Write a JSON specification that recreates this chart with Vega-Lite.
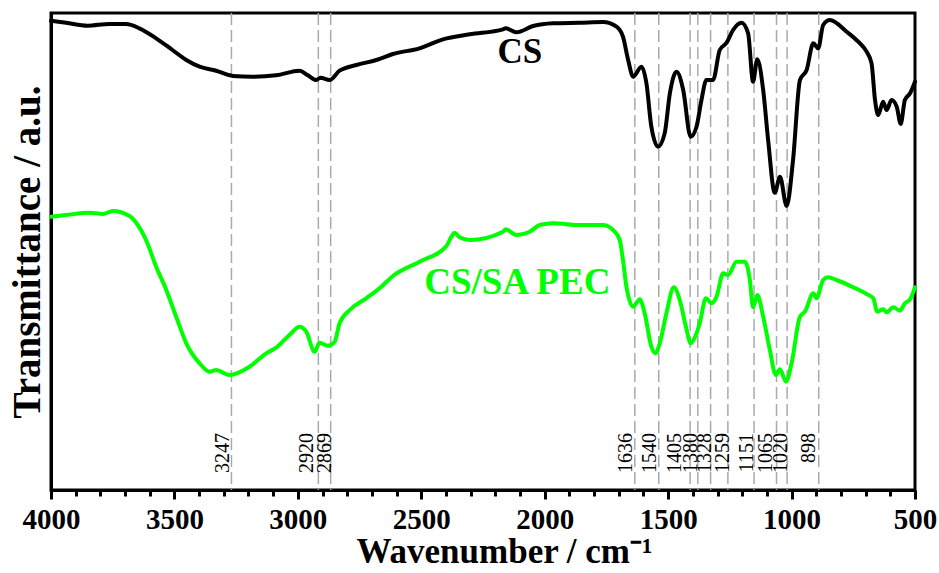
{
  "$schema": "https://vega.github.io/schema/vega-lite/v6.json",
  "width": 864,
  "height": 477,
  "autosize": {"type": "none"},
  "padding": {"left": 51, "top": 13, "right": 24, "bottom": 83},
  "background": "white",
  "config": {
    "view": {"stroke": "black", "strokeWidth": 3},
    "font": "Liberation Serif"
  },
  "datasets": {
    "spectra": [
      {"series": "CS", "wn": 4000, "t": 469.3},
      {"series": "CS", "wn": 3939, "t": 467.3},
      {"series": "CS", "wn": 3852, "t": 464.3},
      {"series": "CS", "wn": 3763, "t": 466},
      {"series": "CS", "wn": 3696, "t": 466},
      {"series": "CS", "wn": 3642, "t": 461.7},
      {"series": "CS", "wn": 3574, "t": 451.7},
      {"series": "CS", "wn": 3508, "t": 440},
      {"series": "CS", "wn": 3452, "t": 430},
      {"series": "CS", "wn": 3398, "t": 423.3},
      {"series": "CS", "wn": 3331, "t": 419.3},
      {"series": "CS", "wn": 3263, "t": 414},
      {"series": "CS", "wn": 3184, "t": 413.3},
      {"series": "CS", "wn": 3088, "t": 414.7},
      {"series": "CS", "wn": 2993, "t": 419.3},
      {"series": "CS", "wn": 2961, "t": 415},
      {"series": "CS", "wn": 2925, "t": 410},
      {"series": "CS", "wn": 2909, "t": 412.3},
      {"series": "CS", "wn": 2871, "t": 410},
      {"series": "CS", "wn": 2831, "t": 419.3},
      {"series": "CS", "wn": 2763, "t": 425},
      {"series": "CS", "wn": 2682, "t": 430},
      {"series": "CS", "wn": 2615, "t": 436},
      {"series": "CS", "wn": 2507, "t": 441.7},
      {"series": "CS", "wn": 2412, "t": 450.7},
      {"series": "CS", "wn": 2304, "t": 455.7},
      {"series": "CS", "wn": 2169, "t": 460.7},
      {"series": "CS", "wn": 2158, "t": 461.7},
      {"series": "CS", "wn": 2115, "t": 457.7},
      {"series": "CS", "wn": 2047, "t": 464},
      {"series": "CS", "wn": 1966, "t": 466.7},
      {"series": "CS", "wn": 1858, "t": 467.3},
      {"series": "CS", "wn": 1764, "t": 468},
      {"series": "CS", "wn": 1709, "t": 463.3},
      {"series": "CS", "wn": 1683, "t": 453.3},
      {"series": "CS", "wn": 1662, "t": 430},
      {"series": "CS", "wn": 1642, "t": 413.3},
      {"series": "CS", "wn": 1608, "t": 423.3},
      {"series": "CS", "wn": 1588, "t": 406.7},
      {"series": "CS", "wn": 1568, "t": 363.3},
      {"series": "CS", "wn": 1541, "t": 343.3},
      {"series": "CS", "wn": 1514, "t": 356.7},
      {"series": "CS", "wn": 1493, "t": 396.7},
      {"series": "CS", "wn": 1466, "t": 418.3},
      {"series": "CS", "wn": 1439, "t": 400},
      {"series": "CS", "wn": 1409, "t": 353.3},
      {"series": "CS", "wn": 1385, "t": 363.3},
      {"series": "CS", "wn": 1365, "t": 390},
      {"series": "CS", "wn": 1345, "t": 410},
      {"series": "CS", "wn": 1318, "t": 410},
      {"series": "CS", "wn": 1291, "t": 440},
      {"series": "CS", "wn": 1263, "t": 447.3},
      {"series": "CS", "wn": 1237, "t": 460},
      {"series": "CS", "wn": 1203, "t": 467.3},
      {"series": "CS", "wn": 1176, "t": 456.7},
      {"series": "CS", "wn": 1156, "t": 408.3},
      {"series": "CS", "wn": 1139, "t": 430.7},
      {"series": "CS", "wn": 1115, "t": 400},
      {"series": "CS", "wn": 1095, "t": 350},
      {"series": "CS", "wn": 1068, "t": 297.3},
      {"series": "CS", "wn": 1047, "t": 313.3},
      {"series": "CS", "wn": 1020, "t": 284},
      {"series": "CS", "wn": 994, "t": 330},
      {"series": "CS", "wn": 966, "t": 410},
      {"series": "CS", "wn": 939, "t": 420},
      {"series": "CS", "wn": 912, "t": 446.7},
      {"series": "CS", "wn": 892, "t": 441.7},
      {"series": "CS", "wn": 872, "t": 465},
      {"series": "CS", "wn": 845, "t": 470},
      {"series": "CS", "wn": 777, "t": 458.3},
      {"series": "CS", "wn": 730, "t": 448.3},
      {"series": "CS", "wn": 696, "t": 438.3},
      {"series": "CS", "wn": 676, "t": 426.7},
      {"series": "CS", "wn": 662, "t": 390},
      {"series": "CS", "wn": 649, "t": 375},
      {"series": "CS", "wn": 629, "t": 388.3},
      {"series": "CS", "wn": 615, "t": 380},
      {"series": "CS", "wn": 595, "t": 390},
      {"series": "CS", "wn": 574, "t": 383.3},
      {"series": "CS", "wn": 558, "t": 366},
      {"series": "CS", "wn": 541, "t": 390},
      {"series": "CS", "wn": 520, "t": 396.7},
      {"series": "CS", "wn": 500, "t": 408.3},
      {"series": "CS/SA PEC", "wn": 4000, "t": 273.3},
      {"series": "CS/SA PEC", "wn": 3939, "t": 275},
      {"series": "CS/SA PEC", "wn": 3844, "t": 277.3},
      {"series": "CS/SA PEC", "wn": 3790, "t": 276},
      {"series": "CS/SA PEC", "wn": 3750, "t": 279},
      {"series": "CS/SA PEC", "wn": 3682, "t": 274},
      {"series": "CS/SA PEC", "wn": 3655, "t": 267.3},
      {"series": "CS/SA PEC", "wn": 3615, "t": 250},
      {"series": "CS/SA PEC", "wn": 3574, "t": 223.3},
      {"series": "CS/SA PEC", "wn": 3533, "t": 200},
      {"series": "CS/SA PEC", "wn": 3493, "t": 173.3},
      {"series": "CS/SA PEC", "wn": 3452, "t": 146.7},
      {"series": "CS/SA PEC", "wn": 3398, "t": 126.7},
      {"series": "CS/SA PEC", "wn": 3358, "t": 118.3},
      {"series": "CS/SA PEC", "wn": 3331, "t": 120},
      {"series": "CS/SA PEC", "wn": 3277, "t": 115},
      {"series": "CS/SA PEC", "wn": 3196, "t": 123.3},
      {"series": "CS/SA PEC", "wn": 3128, "t": 136.7},
      {"series": "CS/SA PEC", "wn": 3088, "t": 142.3},
      {"series": "CS/SA PEC", "wn": 3034, "t": 155},
      {"series": "CS/SA PEC", "wn": 2993, "t": 163.3},
      {"series": "CS/SA PEC", "wn": 2966, "t": 158.3},
      {"series": "CS/SA PEC", "wn": 2932, "t": 138.3},
      {"series": "CS/SA PEC", "wn": 2912, "t": 147.3},
      {"series": "CS/SA PEC", "wn": 2878, "t": 144.3},
      {"series": "CS/SA PEC", "wn": 2851, "t": 148.3},
      {"series": "CS/SA PEC", "wn": 2831, "t": 166.7},
      {"series": "CS/SA PEC", "wn": 2790, "t": 180},
      {"series": "CS/SA PEC", "wn": 2723, "t": 191.7},
      {"series": "CS/SA PEC", "wn": 2669, "t": 201.7},
      {"series": "CS/SA PEC", "wn": 2615, "t": 214},
      {"series": "CS/SA PEC", "wn": 2507, "t": 228.3},
      {"series": "CS/SA PEC", "wn": 2398, "t": 244},
      {"series": "CS/SA PEC", "wn": 2378, "t": 253.3},
      {"series": "CS/SA PEC", "wn": 2365, "t": 257.3},
      {"series": "CS/SA PEC", "wn": 2345, "t": 252.7},
      {"series": "CS/SA PEC", "wn": 2304, "t": 250},
      {"series": "CS/SA PEC", "wn": 2169, "t": 258.3},
      {"series": "CS/SA PEC", "wn": 2158, "t": 260.7},
      {"series": "CS/SA PEC", "wn": 2115, "t": 255},
      {"series": "CS/SA PEC", "wn": 2061, "t": 258.3},
      {"series": "CS/SA PEC", "wn": 2020, "t": 265},
      {"series": "CS/SA PEC", "wn": 1966, "t": 266.7},
      {"series": "CS/SA PEC", "wn": 1858, "t": 265},
      {"series": "CS/SA PEC", "wn": 1764, "t": 265},
      {"series": "CS/SA PEC", "wn": 1723, "t": 260},
      {"series": "CS/SA PEC", "wn": 1696, "t": 250},
      {"series": "CS/SA PEC", "wn": 1683, "t": 230},
      {"series": "CS/SA PEC", "wn": 1669, "t": 203.3},
      {"series": "CS/SA PEC", "wn": 1642, "t": 183.3},
      {"series": "CS/SA PEC", "wn": 1615, "t": 190.7},
      {"series": "CS/SA PEC", "wn": 1595, "t": 176.7},
      {"series": "CS/SA PEC", "wn": 1568, "t": 143.3},
      {"series": "CS/SA PEC", "wn": 1551, "t": 136.7},
      {"series": "CS/SA PEC", "wn": 1534, "t": 146.7},
      {"series": "CS/SA PEC", "wn": 1507, "t": 176.7},
      {"series": "CS/SA PEC", "wn": 1477, "t": 202.7},
      {"series": "CS/SA PEC", "wn": 1453, "t": 190},
      {"series": "CS/SA PEC", "wn": 1428, "t": 163.3},
      {"series": "CS/SA PEC", "wn": 1409, "t": 146.7},
      {"series": "CS/SA PEC", "wn": 1385, "t": 156.7},
      {"series": "CS/SA PEC", "wn": 1372, "t": 166.7},
      {"series": "CS/SA PEC", "wn": 1347, "t": 191.7},
      {"series": "CS/SA PEC", "wn": 1324, "t": 186.7},
      {"series": "CS/SA PEC", "wn": 1304, "t": 193.3},
      {"series": "CS/SA PEC", "wn": 1277, "t": 216.7},
      {"series": "CS/SA PEC", "wn": 1257, "t": 215},
      {"series": "CS/SA PEC", "wn": 1223, "t": 228.3},
      {"series": "CS/SA PEC", "wn": 1189, "t": 228.3},
      {"series": "CS/SA PEC", "wn": 1169, "t": 210},
      {"series": "CS/SA PEC", "wn": 1156, "t": 182.7},
      {"series": "CS/SA PEC", "wn": 1139, "t": 195},
      {"series": "CS/SA PEC", "wn": 1115, "t": 173.3},
      {"series": "CS/SA PEC", "wn": 1088, "t": 140},
      {"series": "CS/SA PEC", "wn": 1064, "t": 115},
      {"series": "CS/SA PEC", "wn": 1047, "t": 120.7},
      {"series": "CS/SA PEC", "wn": 1023, "t": 108.3},
      {"series": "CS/SA PEC", "wn": 1000, "t": 126.7},
      {"series": "CS/SA PEC", "wn": 966, "t": 173.3},
      {"series": "CS/SA PEC", "wn": 946, "t": 178.3},
      {"series": "CS/SA PEC", "wn": 912, "t": 196.7},
      {"series": "CS/SA PEC", "wn": 899, "t": 191.7},
      {"series": "CS/SA PEC", "wn": 872, "t": 210},
      {"series": "CS/SA PEC", "wn": 852, "t": 212.7},
      {"series": "CS/SA PEC", "wn": 818, "t": 210},
      {"series": "CS/SA PEC", "wn": 750, "t": 202.7},
      {"series": "CS/SA PEC", "wn": 696, "t": 196},
      {"series": "CS/SA PEC", "wn": 669, "t": 191.7},
      {"series": "CS/SA PEC", "wn": 653, "t": 178.3},
      {"series": "CS/SA PEC", "wn": 629, "t": 180.7},
      {"series": "CS/SA PEC", "wn": 615, "t": 177.7},
      {"series": "CS/SA PEC", "wn": 588, "t": 182.7},
      {"series": "CS/SA PEC", "wn": 561, "t": 179.3},
      {"series": "CS/SA PEC", "wn": 541, "t": 186.7},
      {"series": "CS/SA PEC", "wn": 520, "t": 190.7},
      {"series": "CS/SA PEC", "wn": 500, "t": 202.7}
    ],
    "peaks": [
      {"peak": "3247", "pos": 3269, "lx": 3277},
      {"peak": "2920", "pos": 2917, "lx": 2939},
      {"peak": "2869", "pos": 2867, "lx": 2865},
      {"peak": "1636", "pos": 1635, "lx": 1645},
      {"peak": "1540", "pos": 1538, "lx": 1551},
      {"peak": "1405", "pos": 1411, "lx": 1446},
      {"peak": "1380", "pos": 1380, "lx": 1385},
      {"peak": "1328", "pos": 1328, "lx": 1328},
      {"peak": "1259", "pos": 1258, "lx": 1254},
      {"peak": "1151", "pos": 1152, "lx": 1156},
      {"peak": "1065", "pos": 1061, "lx": 1081},
      {"peak": "1020", "pos": 1018, "lx": 1020},
      {"peak": "898", "pos": 890, "lx": 906}
    ],
    "names": [
      {"series": "CS", "wn": 2101, "t": 427, "size": 35},
      {"series": "CS/SA PEC", "wn": 2111, "t": 196, "size": 37}
    ]
  },
  "encoding": {
    "x": {
      "type": "quantitative",
      "scale": {"domain": [500, 4000], "reverse": true, "nice": false, "zero": false},
      "axis": {
        "title": "Wavenumber / cm⁻¹",
        "titleFont": "Liberation Serif",
        "titleFontSize": 35,
        "titleFontWeight": "bold",
        "titleColor": "black",
        "titlePadding": 0,
        "titleX": 453,
        "values": [4000, 3900, 3800, 3700, 3600, 3500, 3400, 3300, 3200, 3100, 3000, 2900, 2800, 2700, 2600, 2500, 2400, 2300, 2200, 2100, 2000, 1900, 1800, 1700, 1600, 1500, 1400, 1300, 1200, 1100, 1000, 900, 800, 700, 600, 500],
        "labelExpr": "datum.value % 500 === 0 ? datum.label : ''",
        "format": "d",
        "labelFont": "Liberation Serif",
        "labelFontSize": 29,
        "labelFontWeight": "bold",
        "labelColor": "black",
        "labelFlush": false,
        "labelOverlap": false,
        "labelPadding": 6,
        "tickColor": "black",
        "tickWidth": 3,
        "tickSize": {"condition": {"test": "datum.value % 500 === 0", "value": 9}, "value": 6},
        "domainColor": "black",
        "domainWidth": 3,
        "grid": false
      }
    },
    "y": {
      "type": "quantitative",
      "scale": {"domain": [0, 477], "nice": false, "zero": false},
      "axis": {
        "title": "Transmittance / a.u.",
        "titleFont": "Liberation Serif",
        "titleFontSize": 39,
        "titleFontWeight": "bold",
        "titleColor": "black",
        "titlePadding": 4,
        "labels": false,
        "ticks": false,
        "grid": false,
        "domainColor": "black",
        "domainWidth": 3
      }
    }
  },
  "layer": [
    {
      "data": {"name": "peaks"},
      "mark": {"type": "rule", "color": "#aaaaaa", "strokeWidth": 1.5, "strokeDash": [12, 5]},
      "encoding": {"x": {"field": "pos", "type": "quantitative"}}
    },
    {
      "data": {"name": "peaks"},
      "mark": {"type": "text", "angle": 270, "align": "right", "baseline": "alphabetic", "font": "Liberation Serif", "fontSize": 20, "color": "black"},
      "encoding": {
        "x": {"field": "lx", "type": "quantitative"},
        "y": {"datum": 57, "type": "quantitative"},
        "text": {"field": "peak"}
      }
    },
    {
      "data": {"name": "spectra"},
      "mark": {"type": "line", "strokeWidth": 4, "strokeJoin": "round", "strokeCap": "round", "interpolate": "monotone"},
      "encoding": {
        "x": {"field": "wn", "type": "quantitative"},
        "y": {"field": "t", "type": "quantitative"},
        "color": {"field": "series", "type": "nominal", "scale": {"domain": ["CS", "CS/SA PEC"], "range": ["black", "#00ff00"]}, "legend": null}
      }
    },
    {
      "data": {"name": "names"},
      "mark": {"type": "text", "align": "center", "baseline": "alphabetic", "font": "Liberation Serif", "fontWeight": "bold"},
      "encoding": {
        "x": {"field": "wn", "type": "quantitative"},
        "y": {"field": "t", "type": "quantitative"},
        "text": {"field": "series"},
        "size": {"field": "size", "type": "quantitative", "scale": null},
        "color": {"field": "series", "type": "nominal", "scale": {"domain": ["CS", "CS/SA PEC"], "range": ["black", "#00ff00"]}, "legend": null}
      }
    }
  ]
}
